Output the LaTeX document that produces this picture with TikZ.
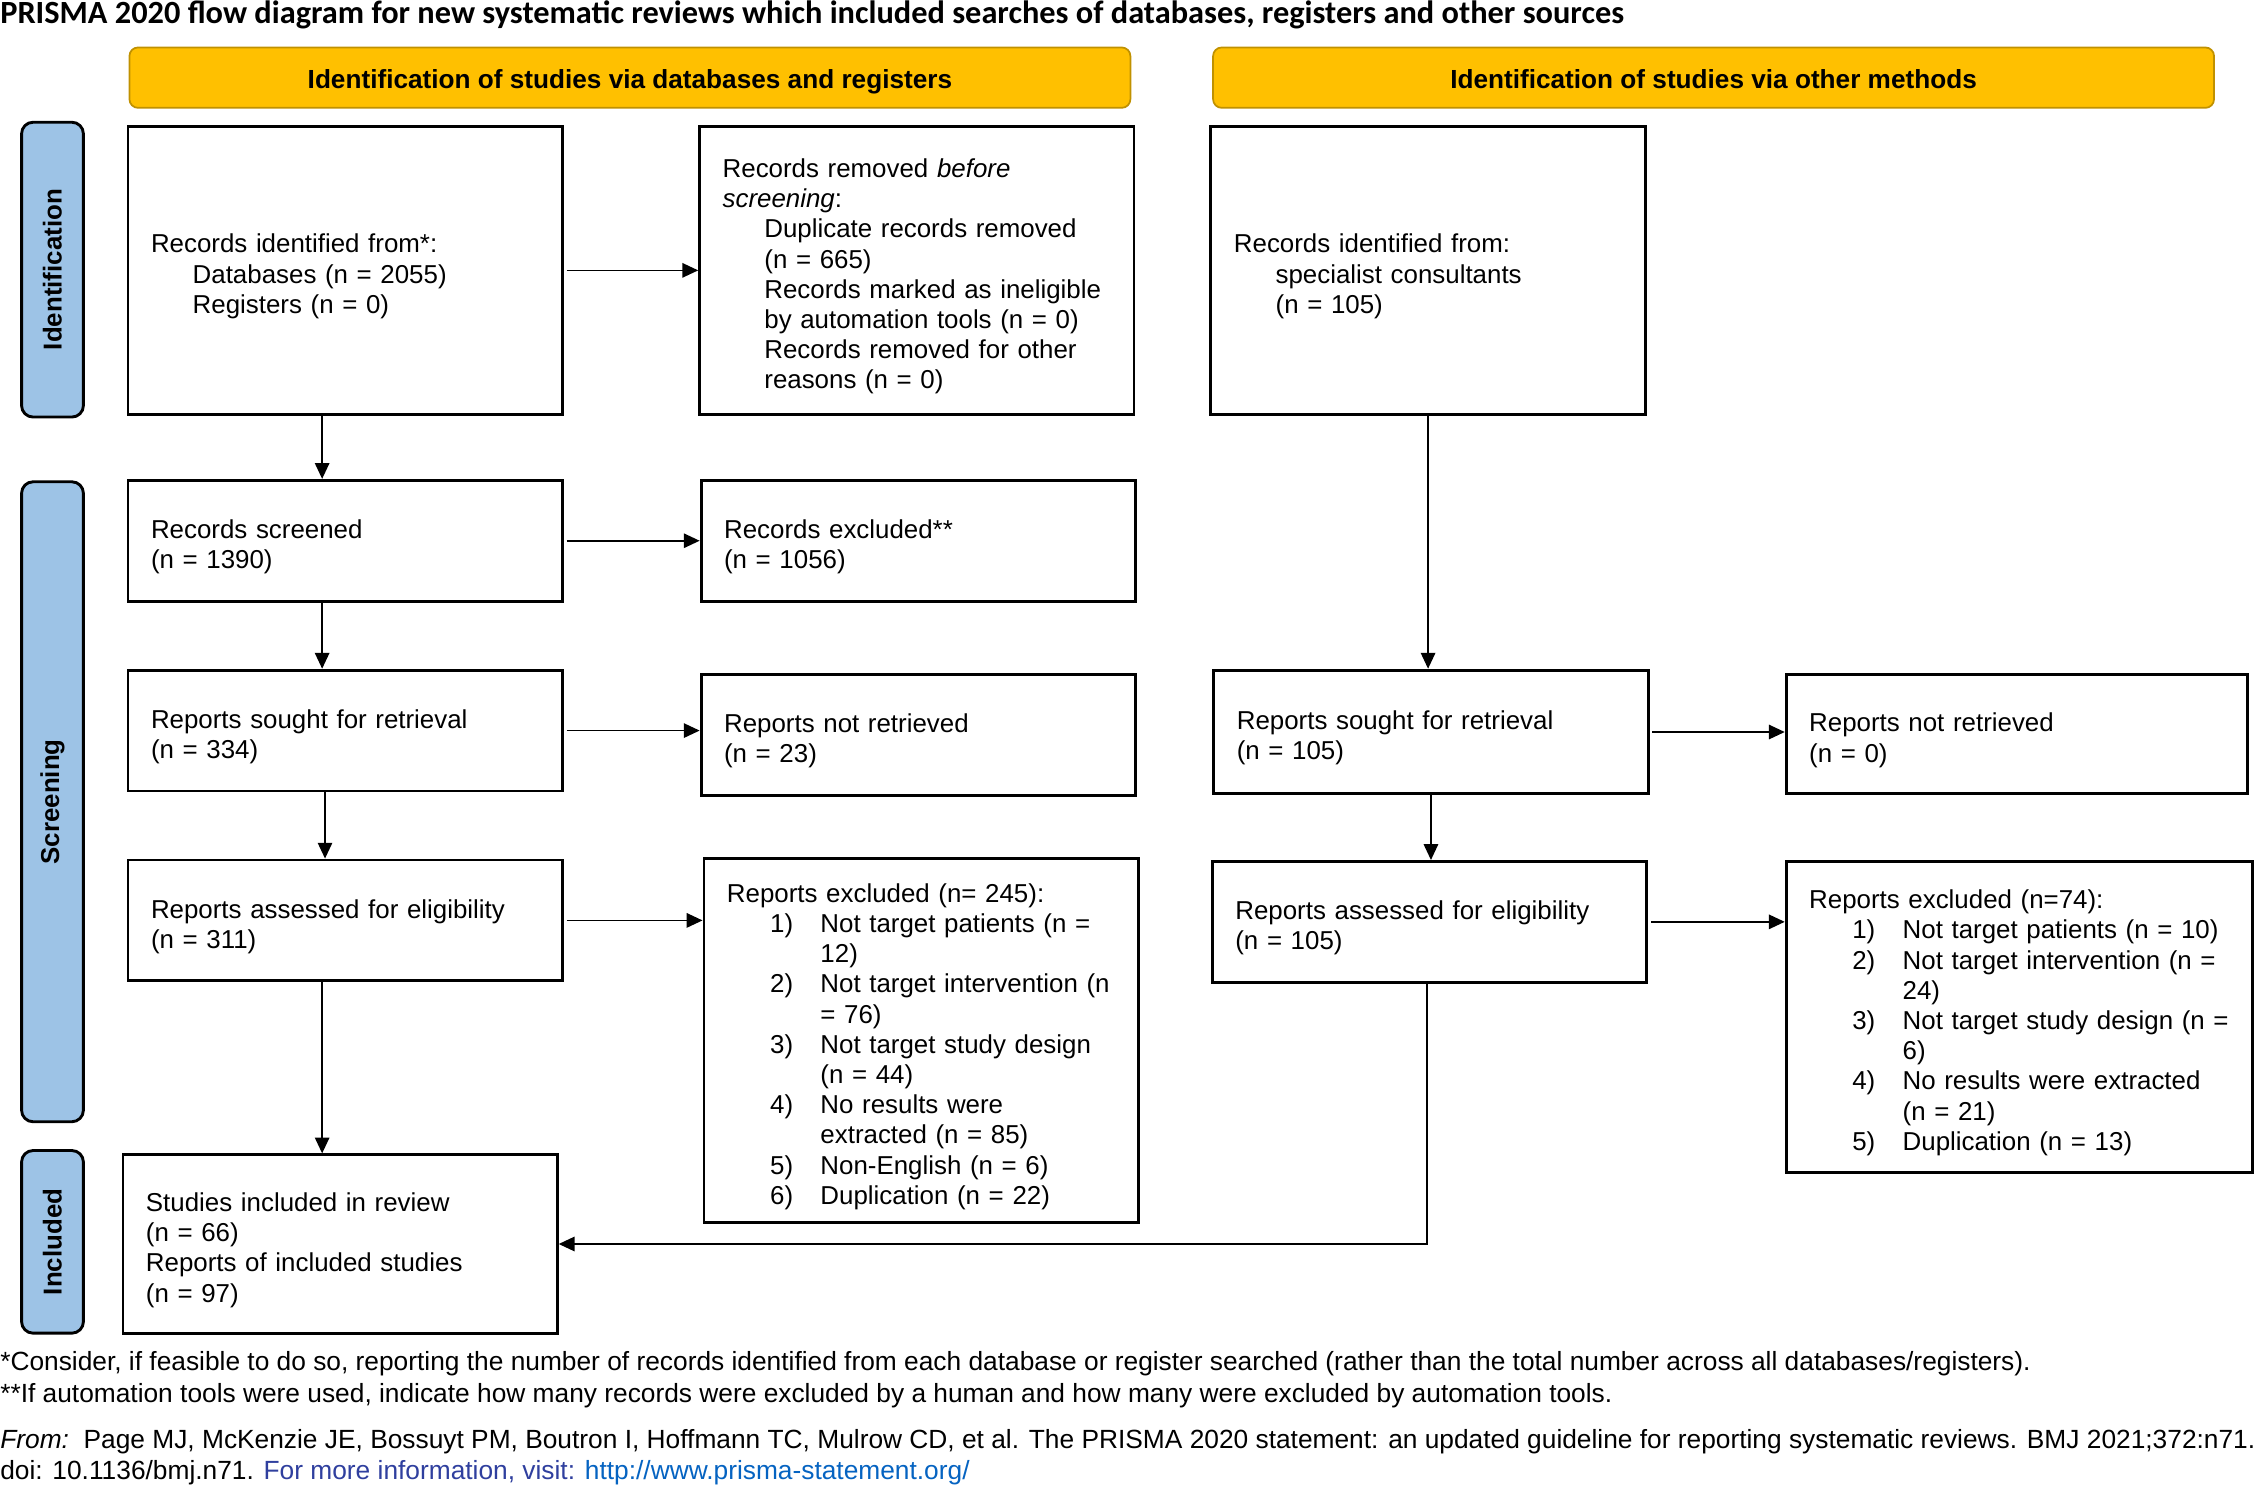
\documentclass[tikz,border=0pt]{standalone}
\usepackage{fontspec}
\setmainfont{Liberation Sans}
\newfontfamily\titlefont{Carlito}
\usetikzlibrary{arrows.meta}
\definecolor{prismayellow}{HTML}{FFC000}
\definecolor{prismagold}{HTML}{C09100}
\definecolor{prismablue}{HTML}{9DC3E6}
\definecolor{infoblue}{HTML}{2F3F9E}
\definecolor{linkblue}{HTML}{0563C1}
\newcommand{\subind}{\hspace*{29pt}}
\newcommand{\numitem}[2]{\mbox{\makebox[65pt][l]{\hspace*{30pt}#1}#2}}
\newcommand{\numcont}[1]{\mbox{\hspace*{65pt}#1}}
\begin{document}
\begin{tikzpicture}[x=1pt, y=-1pt, every node/.style={font=\fontsize{18}{21}\selectfont},
  box/.style={draw, line width=2pt, align=left, inner xsep=16pt, inner ysep=0pt, text width=270pt, execute at begin node={\rule{0pt}{21.5pt}}},
  phase/.style={draw=prismagold, line width=1.2pt, fill=prismayellow, rounded corners=6pt, minimum width=696pt, minimum height=42pt, text height=17pt, text depth=2pt, font=\fontsize{18.2}{21}\selectfont\bfseries},
  stage/.style={draw, line width=2pt, fill=prismablue, rounded corners=8pt, rotate=90, minimum height=43pt, font=\fontsize{18}{21}\selectfont\bfseries},
  arr/.style={-{Triangle[length=11pt,width=10pt]}, line width=1.2pt}]
  \useasboundingbox (0,0) rectangle (1568,1032);
  \node[anchor=west, inner sep=0pt, font=\titlefont\bfseries\fontsize{22.5}{24}\selectfont] (title) at (0,10) {PRISMA 2020 flow diagram for new systematic reviews which included searches of databases, registers and other sources};
  % phase headers and side bars
  \node[phase] (dbhead) at (438,54) {Identification of studies via databases and registers};
  \node[phase] (othead) at (1191.5,54) {Identification of studies via other methods};
  \node[stage, minimum width=205pt] (idbar) at (36.5,187.5) {Identification};
  \node[stage, minimum width=445pt] (scbar) at (36.5,557.5) {Screening};
  \node[stage, minimum width=127pt] (inbar) at (36.5,863.5) {Included};
  % databases and registers
  \node[box, minimum height=200pt] (dbrec) at (240,188) {Records identified from*:\\ \subind Databases (n = 2055)\\ \subind Registers (n = 0)};
  \node[box, minimum height=200pt] (removed) at (637.5,188) {Records removed \textit{before}\\ \textit{screening}:\\ \subind Duplicate records removed\\ \subind (n = 665)\\ \subind Records marked as ineligible\\ \subind by automation tools (n = 0)\\ \subind Records removed for other\\ \subind reasons (n = 0)};
  \node[box, minimum height=84pt] (screened) at (240,376) {Records screened\\ (n = 1390)};
  \node[box, minimum height=84pt] (recexcl) at (638.5,376) {Records excluded**\\ (n = 1056)};
  \node[box, minimum height=84pt] (sought) at (240,508) {Reports sought for retrieval\\ (n = 334)};
  \node[box, minimum height=84pt] (notret) at (638.5,511) {Reports not retrieved\\ (n = 23)};
  \node[box, minimum height=84pt] (assessed) at (240,640) {Reports assessed for eligibility\\ (n = 311)};
  \node[box, minimum height=253pt] (repexcl) at (640.5,723.5) {Reports excluded (n= 245):\\ \numitem{1)}{Not target patients (n =}\\ \numcont{12)}\\ \numitem{2)}{Not target intervention (n}\\ \numcont{= 76)}\\ \numitem{3)}{Not target study design}\\ \numcont{(n = 44)}\\ \numitem{4)}{No results were}\\ \numcont{extracted (n = 85)}\\ \numitem{5)}{Non-English (n = 6)}\\ \numitem{6)}{Duplication (n = 22)}};
  \node[box, minimum height=124pt] (included) at (236.5,865) {Studies included in review\\ (n = 66)\\ Reports of included studies\\ (n = 97)};
  % other methods
  \node[box, minimum height=200pt] (otrec) at (993,188) {Records identified from:\\ \subind specialist consultants\\ \subind (n = 105)};
  \node[box, minimum height=86pt] (otsought) at (995,509) {Reports sought for retrieval\\ (n = 105)};
  \node[box, minimum height=83pt, text width=289pt] (otnotret) at (1402.5,510.5) {Reports not retrieved\\ (n = 0)};
  \node[box, minimum height=84pt] (otassessed) at (994,641) {Reports assessed for eligibility\\ (n = 105)};
  \node[box, minimum height=216pt, text width=292pt] (otrepexcl) at (1404,707) {Reports excluded (n=74):\\ \numitem{1)}{Not target patients (n = 10)}\\ \numitem{2)}{Not target intervention (n =}\\ \numcont{24)}\\ \numitem{3)}{Not target study design (n =}\\ \numcont{6)}\\ \numitem{4)}{No results were extracted}\\ \numcont{(n = 21)}\\ \numitem{5)}{Duplication (n = 13)}};
  % connectors
  \draw[arr, shorten <=2pt] (dbrec) -- (removed);
  \draw[arr, shorten <=2pt] (screened) -- (recexcl);
  \draw[arr, shorten <=2pt] (sought.east) -- (sought.east -| notret.west);
  \draw[arr, shorten <=2pt] (assessed.east) -- (assessed.east -| repexcl.west);
  \draw[arr] ([xshift=-16pt]dbrec.south) -- ([xshift=-16pt]screened.north);
  \draw[arr] ([xshift=-16pt]screened.south) -- ([xshift=-16pt]sought.north);
  \draw[arr] ([xshift=-14pt]sought.south) -- ([xshift=-14pt]assessed.north);
  \draw[arr] ([xshift=-16pt]assessed.south) -- ([xshift=-16pt]assessed.south |- included.north);
  \draw[arr] (otrec.south) -- (otrec.south |- otsought.north);
  \draw[arr, shorten <=2pt] (otsought.east) -- (otsought.east -| otnotret.west);
  \draw[arr] (otsought.south) -- (otsought.south |- otassessed.north);
  \draw[arr, shorten <=2pt] (otassessed.east) -- (otassessed.east -| otrepexcl.west);
  \draw[arr] ([xshift=-2pt]otassessed.south) |- (included.east);
  % notes and source
  \node[anchor=north west, inner sep=0pt, align=left, font=\fontsize{18.3}{22}\selectfont] (notes) at (0,939.5) {*Consider, if feasible to do so, reporting the number of records identified from each database or register searched (rather than the total number across all databases/registers).\\ **If automation tools were used, indicate how many records were excluded by a human and how many were excluded by automation tools.};
  \node[anchor=north west, inner sep=0pt, align=left, font=\fontsize{18.3}{21}\selectfont] (source) at (0,994) {\textit{From:}\ \ Page MJ, McKenzie JE, Bossuyt PM, Boutron I, Hoffmann TC, Mulrow CD, et al. The PRISMA 2020 statement: an updated guideline for reporting systematic reviews. BMJ 2021;372:n71.\\ doi: 10.1136/bmj.n71. \textcolor{infoblue}{For more information, visit:} \textcolor{linkblue}{\underline{http://www.prisma-statement.org/}}};
\end{tikzpicture}
\end{document}
